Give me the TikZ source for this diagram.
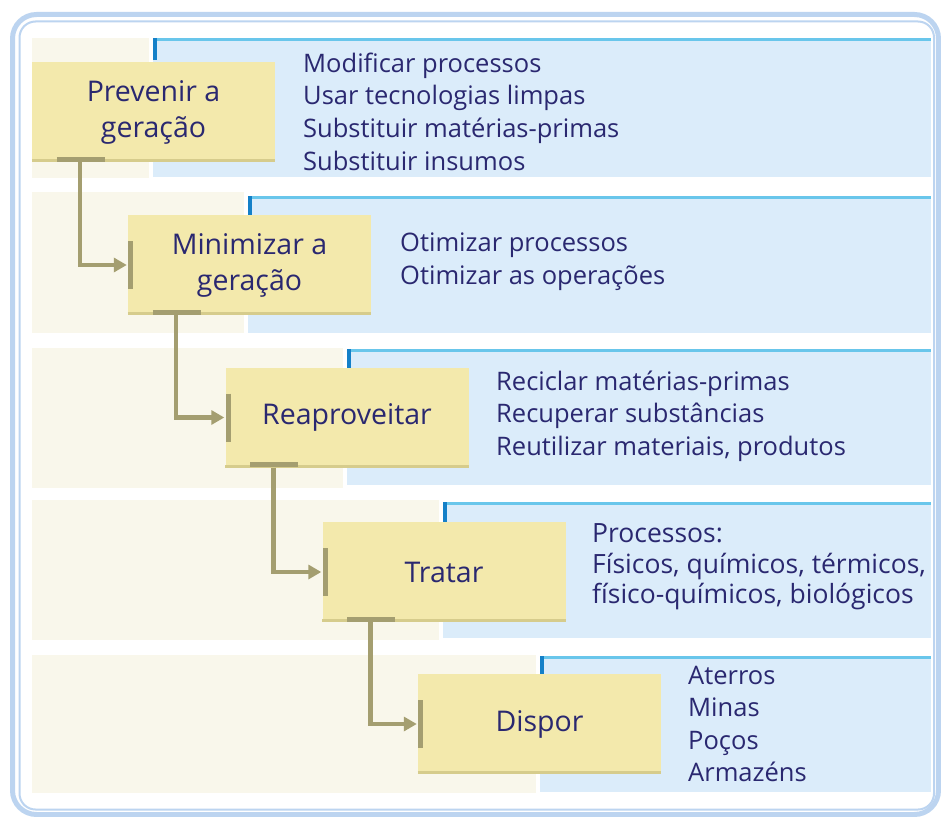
\documentclass[tikz,border=0pt]{standalone}
\usepackage{fontspec}
\setmainfont{Open Sans}
\usetikzlibrary{arrows.meta,calc}
\definecolor{boxfill}{RGB}{243,233,172}
\definecolor{boxedgec}{RGB}{214,204,140}
\definecolor{olive}{RGB}{164,158,112}
\definecolor{cream}{RGB}{249,247,235}
\definecolor{bluebg}{RGB}{219,236,250}
\definecolor{cyanl}{RGB}{105,198,235}
\definecolor{tickc}{RGB}{20,128,200}
\definecolor{textc}{RGB}{42,40,112}
\definecolor{framec}{RGB}{188,212,240}
\tikzset{
  box/.style={fill=boxfill, minimum width=243bp, minimum height=100bp, inner sep=0pt,
    text=textc, align=center, font=\fontsize{28.5bp}{36bp}\selectfont},
  desc/.style={anchor=west, align=left, inner sep=0pt, text=textc,
    font=\fontsize{25.5bp}{32.6bp}\selectfont},
  boxedge/.style={draw=boxedgec, line width=3bp},
  bar/.style={draw=olive, line width=5bp},
  conn/.style={draw=olive, line width=4.5bp, -{Triangle[length=13bp,width=14bp]}},
  cyanline/.style={draw=cyanl, line width=3bp},
  tickline/.style={draw=tickc, line width=4bp},
}
\begin{document}
\begin{tikzpicture}[x=1bp,y=-1bp]
\useasboundingbox (0,0) rectangle (941,817);
\fill[white] (0,0) rectangle (941,817);
% frame
\draw[framec, line width=5bp, rounded corners=24bp] (12.5,14.5) rectangle (938.5,814.5);
\draw[framec, line width=2bp, rounded corners=16bp] (19.5,21.5) rectangle (934,809.5);
% bands
\fill[cream] (32,38) rectangle (149,178);
\fill[bluebg] (153,38) rectangle (931,177);
\draw[cyanline] (153,39.5) -- (931,39.5);
\draw[tickline] (155,38) -- (155,60);

\fill[cream] (32,192) rectangle (244,333);
\fill[bluebg] (248,196) rectangle (931,333);
\draw[cyanline] (248,197.5) -- (931,197.5);
\draw[tickline] (250,196) -- (250,217);

\fill[cream] (32,348) rectangle (343,488);
\fill[bluebg] (347,349) rectangle (931,485);
\draw[cyanline] (347,350.5) -- (931,350.5);
\draw[tickline] (349,349) -- (349,368);

\fill[cream] (32,500) rectangle (439,640);
\fill[bluebg] (443,502) rectangle (931,638);
\draw[cyanline] (443,503.5) -- (931,503.5);
\draw[tickline] (445,502) -- (445,522);

\fill[cream] (32,655) rectangle (536,793);
\fill[bluebg] (540,656) rectangle (931,792);
\draw[cyanline] (540,657.5) -- (931,657.5);
\draw[tickline] (542,656) -- (542,674);

% boxes
\node[box] (b1) at (153.5,112) {Prevenir a\\geração};
\node[box] (b2) at (249.5,265) {Minimizar a\\geração};
\node[box] (b3) at (347,417.5) {Reaproveitar};
\node[box] (b4) at (444,572) {Tratar};
\node[box] (b5) at (539.5,724) {Dispor};
\foreach \b in {b1,b2,b3,b4,b5}{
  \draw[boxedge] ([yshift=1.5bp]\b.south west) -- ([yshift=1.5bp]\b.south east);
}
% connectors
\foreach \a/\b in {b1/b2,b2/b3,b3/b4,b4/b5}{
  \draw[bar] ([xshift=25bp,yshift=3bp]\a.south west) -- ([xshift=73bp,yshift=3bp]\a.south west);
  \draw[bar] ([xshift=3bp,yshift=24bp]\b.west) -- ([xshift=3bp,yshift=-24bp]\b.west);
  \draw[conn] ([xshift=48bp]\a.south west) |- ([xshift=-1bp]\b.west);
}
% descriptions
\node[desc] (d1) at (303,111.5) {Modificar processos\\Usar tecnologias limpas\\Substituir matérias-primas\\Substituir insumos};
\node[desc] (d2) at (400,261.5) {Otimizar processos\\Otimizar as operações};
\node[desc] (d3) at (496,416) {Reciclar matérias-primas\\Recuperar substâncias\\Reutilizar materiais, produtos};
\node[desc, font=\fontsize{26.5bp}{30.5bp}\selectfont] (d4) at (592,567) {Processos:\\Físicos, químicos, térmicos,\\físico-químicos, biológicos};
\node[desc] (d5) at (688,724) {Aterros\\Minas\\Poços\\Armazéns};
\end{tikzpicture}
\end{document}
